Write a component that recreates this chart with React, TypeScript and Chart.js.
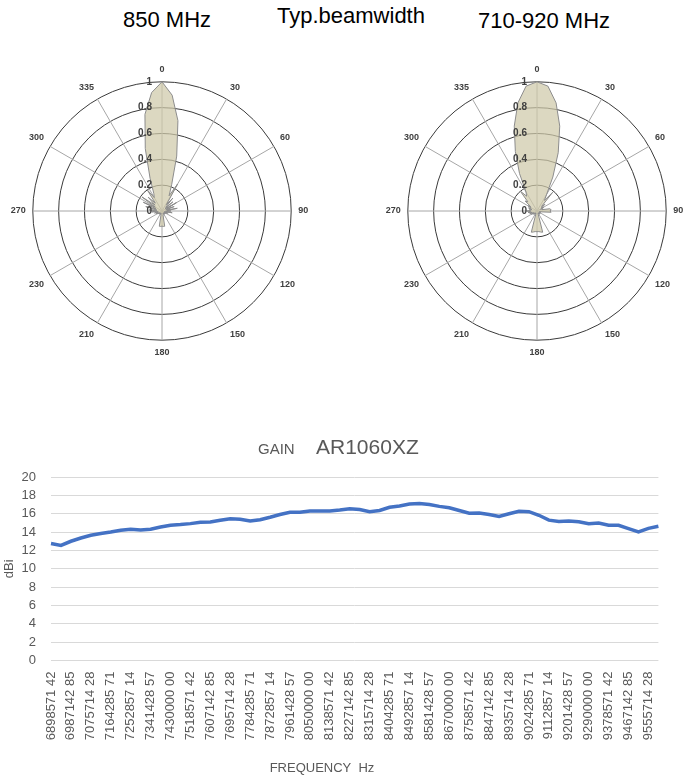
import React, { useEffect, useRef } from 'react';
import { Chart, registerables } from 'chart.js';

Chart.register(...registerables);

// ---------- Polar (beamwidth) data ----------
const patternAngles: number[] = Array.from({ length: 72 }, (_, i) => i * 5);
const angleLabelText = ['0', '30', '60', '90', '120', '150', '180', '210', '230', '270', '300', '335'];
const radialTicks = [0, 0.2, 0.4, 0.6, 0.8, 1];

const pattern850 = [
  1.0, 0.9, 0.71, 0.44, 0.22, 0.13, 0.24, 0.06, 0.13, 0.04, 0.11, 0.03,
  0.13, 0.04, 0.1, 0.03, 0.12, 0.04, 0.07, 0.03, 0.08, 0.02, 0.05, 0.02,
  0.04, 0.02, 0.03, 0.02, 0.03, 0.02, 0.03, 0.02, 0.03, 0.03, 0.12, 0.12,
  0.117, 0.12, 0.12, 0.03, 0.02, 0.03, 0.02, 0.03, 0.02, 0.03, 0.02, 0.04,
  0.03, 0.05, 0.03, 0.06, 0.03, 0.08, 0.04, 0.1, 0.04, 0.13, 0.05, 0.16,
  0.06, 0.19, 0.07, 0.15, 0.08, 0.2, 0.12, 0.15, 0.27, 0.5, 0.76, 0.92,
];

const pattern710_920 = [
  1.0, 0.97, 0.85, 0.68, 0.48, 0.29, 0.15, 0.1, 0.19, 0.05, 0.08, 0.04,
  0.06, 0.03, 0.05, 0.04, 0.1, 0.11, 0.1, 0.11, 0.04, 0.02, 0.03, 0.02,
  0.03, 0.02, 0.03, 0.02, 0.03, 0.02, 0.03, 0.02, 0.03, 0.17, 0.165, 0.16,
  0.16, 0.16, 0.165, 0.17, 0.03, 0.02, 0.03, 0.02, 0.03, 0.02, 0.04, 0.03,
  0.05, 0.03, 0.06, 0.04, 0.07, 0.05, 0.08, 0.05, 0.06, 0.04, 0.07, 0.05,
  0.08, 0.06, 0.12, 0.1, 0.2, 0.14, 0.17, 0.32, 0.49, 0.68, 0.85, 0.97,
];

// ---------- Gain data ----------
const freqTickLabels = [
  '6898571 42', '6987142 85', '7075714 28', '7164285 71', '7252857 14', '7341428 57',
  '7430000 00', '7518571 42', '7607142 85', '7695714 28', '7784285 71', '7872857 14',
  '7961428 57', '8050000 00', '8138571 42', '8227142 85', '8315714 28', '8404285 71',
  '8492857 14', '8581428 57', '8670000 00', '8758571 42', '8847142 85', '8935714 28',
  '9024285 71', '9112857 14', '9201428 57', '9290000 00', '9378571 42', '9467142 85',
  '9555714 28',
];

const gainValues = [
  12.75, 12.55, 13.0, 13.35, 13.65, 13.85, 14.0, 14.2, 14.3, 14.22,
  14.32, 14.55, 14.75, 14.82, 14.92, 15.07, 15.1, 15.28, 15.45, 15.4,
  15.2, 15.35, 15.62, 15.92, 16.15, 16.15, 16.3, 16.3, 16.3, 16.4,
  16.55, 16.45, 16.22, 16.35, 16.7, 16.85, 17.05, 17.1, 17.0, 16.8,
  16.65, 16.35, 16.05, 16.08, 15.92, 15.7, 16.0, 16.27, 16.22, 15.83,
  15.3, 15.15, 15.2, 15.12, 14.9, 14.99, 14.74, 14.74, 14.38, 14.02,
  14.4, 14.63,
];
const gainTicks = [0, 2, 4, 6, 8, 10, 12, 14, 16, 18, 20];

const FONT = '"Liberation Sans", Arial, sans-serif';

const radialTickPlugin = {
  id: 'radialTickLabels',
  afterDatasetsDraw(chart: any) {
    const s = chart.scales.r;
    const ctx = chart.ctx;
    ctx.save();
    ctx.font = `bold 10px ${FONT}`;
    ctx.fillStyle = '#404040';
    ctx.textAlign = 'right';
    ctx.textBaseline = 'middle';
    radialTicks.forEach((v) => {
      const d = s.getDistanceFromCenterForValue(v);
      ctx.fillText(String(v), s.xCenter - 10, s.yCenter - d);
    });
    ctx.restore();
  },
};

const PW = 340;
const PH = 294;

function PolarChart({ values, left, top }: { values: number[]; left: number; top: number }) {
  const ref = useRef<HTMLCanvasElement>(null);
  useEffect(() => {
    const chart = new Chart(ref.current as HTMLCanvasElement, {
      type: 'radar',
      data: {
        labels: patternAngles.map(String),
        datasets: [
          {
            data: values,
            fill: true,
            backgroundColor: 'rgba(206,201,169,0.72)',
            borderColor: '#8c8c8c',
            borderWidth: 1,
            pointRadius: 0,
            pointHoverRadius: 0,
          },
        ],
      },
      options: {
        responsive: false,
        animation: false,
        events: [],
        plugins: { legend: { display: false }, tooltip: { enabled: false } },
        scales: {
          r: {
            min: 0,
            max: 1,
            ticks: { display: false, stepSize: 0.2 },
            grid: { circular: true, color: '#3a3a3a', lineWidth: 1 },
            angleLines: {
              display: true,
              color: '#a6a6a6',
              lineWidth: (c: any) => (c.index % 6 === 0 ? 1 : 0),
            },
            pointLabels: {
              display: true,
              padding: 7,
              color: '#404040',
              font: { family: FONT, size: 9, weight: 'bold' },
              callback: (_l: string, i: number) => (i % 6 === 0 ? angleLabelText[i / 6] : ''),
            },
          },
        },
      } as any,
      plugins: [radialTickPlugin],
    });
    return () => chart.destroy();
  }, [values]);
  return (
    <canvas
      ref={ref}
      width={PW}
      height={PH}
      style={{ position: 'absolute', left, top, width: PW, height: PH }}
    />
  );
}

const gainTitlePlugin = {
  id: 'gainTitle',
  afterDraw(chart: any) {
    const ctx = chart.ctx;
    ctx.save();
    ctx.fillStyle = '#595959';
    ctx.textBaseline = 'alphabetic';
    ctx.textAlign = 'left';
    ctx.font = `15px ${FONT}`;
    ctx.fillText('GAIN', 258, 29);
    ctx.font = `21px ${FONT}`;
    ctx.fillText('AR1060XZ', 316, 29);
    ctx.font = `13px ${FONT}`;
    ctx.textAlign = 'center';
    ctx.textBaseline = 'middle';
    ctx.fillText('FREQUENCY  Hz', 322, chart.height - 8);
    ctx.restore();
  },
};

const LW = 685;
const LH = 351;

function GainChart() {
  const ref = useRef<HTMLCanvasElement>(null);
  useEffect(() => {
    const labels = gainValues.map((_, i) => (i % 2 === 0 ? freqTickLabels[i / 2] : ''));
    const chart = new Chart(ref.current as HTMLCanvasElement, {
      type: 'line',
      data: {
        labels,
        datasets: [
          {
            data: gainValues,
            borderColor: '#4472C4',
            borderWidth: 3.5,
            pointRadius: 0,
            pointHoverRadius: 0,
            fill: false,
            tension: 0,
          },
        ],
      },
      options: {
        responsive: false,
        animation: false,
        events: [],
        layout: { padding: { top: 52, right: 25, left: 0, bottom: 0 } },
        plugins: { legend: { display: false }, tooltip: { enabled: false } },
        scales: {
          x: {
            type: 'category',
            grid: { display: false, drawTicks: false },
            border: { display: false },
            ticks: {
              autoSkip: false,
              minRotation: 90,
              maxRotation: 90,
              padding: 11,
              color: '#595959',
              font: { family: FONT, size: 13 },
            },
            afterFit: (s: any) => {
              s.height = 115.4;
            },
          },
          y: {
            min: 0,
            max: 20,
            afterBuildTicks: (s: any) => {
              s.ticks = gainTicks.map((v) => ({ value: v }));
            },
            grid: { color: '#d9d9d9', lineWidth: 1, drawTicks: false },
            border: { display: false },
            ticks: {
              autoSkip: false,
              padding: 15,
              color: '#595959',
              font: { family: FONT, size: 13 },
            },
            title: {
              display: true,
              text: 'dBi',
              color: '#595959',
              font: { family: FONT, size: 13 },
              padding: { top: 2, bottom: 1 },
            },
            afterFit: (s: any) => {
              s.width = 51;
            },
          },
        },
      } as any,
      plugins: [gainTitlePlugin],
    });
    return () => chart.destroy();
  }, []);
  return (
    <canvas
      ref={ref}
      width={LW}
      height={LH}
      style={{ position: 'absolute', left: 0, top: 425, width: LW, height: LH }}
    />
  );
}

const headStyle: React.CSSProperties = {
  position: 'absolute',
  font: `22px ${FONT}`,
  lineHeight: '22px',
  whiteSpace: 'nowrap',
  color: '#000',
};

export default function App() {
  return (
    <div
      style={{
        position: 'absolute',
        left: 0,
        top: 0,
        width: 685,
        height: 776,
        overflow: 'hidden',
        background: '#fff',
      }}
    >
      <div style={{ ...headStyle, left: 123, top: 9 }}>850 MHz</div>
      <div style={{ ...headStyle, left: 277, top: 5 }}>Typ.beamwidth</div>
      <div style={{ ...headStyle, left: 478, top: 10 }}>710-920 MHz</div>
      <PolarChart values={pattern850} left={-8} top={65} />
      <PolarChart values={pattern710_920} left={367} top={65} />
      <GainChart />
    </div>
  );
}
